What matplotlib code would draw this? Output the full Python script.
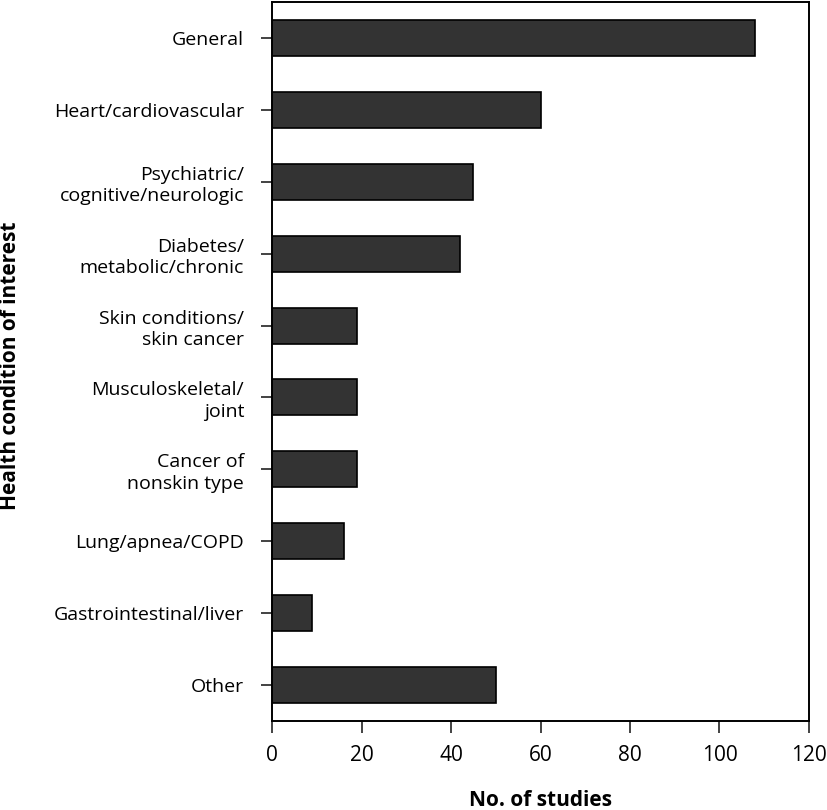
import matplotlib
matplotlib.use('Agg')
import matplotlib.pyplot as plt

conditions = ['General', 'Heart/cardiovascular', 'Psychiatric/\ncognitive/neurologic',
              'Diabetes/\nmetabolic/chronic', 'Skin conditions/\nskin cancer',
              'Musculoskeletal/\njoint', 'Cancer of\nnonskin type', 'Lung/apnea/COPD',
              'Gastrointestinal/liver', 'Other']
n_studies = [108, 60, 45, 42, 19, 19, 19, 16, 9, 50]
x_ticks = [0, 20, 40, 60, 80, 100, 120]

plt.rcParams['font.family'] = ['Open Sans', 'DejaVu Sans']

fig = plt.figure(figsize=(8.28, 8.10), dpi=100)
ax = fig.add_axes([272 / 828, 1 - 721 / 810, (809 - 272) / 828, (721 - 2) / 810])

pos = list(range(len(conditions)))
ax.barh(pos, n_studies, height=0.5, color='#333333', edgecolor='black', linewidth=1.2)

ax.set_ylim(len(conditions) - 0.5, -0.5)
ax.set_xlim(0, 120)
ax.set_xticks(x_ticks)
ax.set_xticklabels([str(t) for t in x_ticks], fontsize=15)
ax.set_yticks(pos)
ax.set_yticklabels(conditions, fontsize=14, multialignment='right', linespacing=1.25)

ax.tick_params(axis='x', direction='out', length=8.5, width=1.2, pad=9, color='#222222')
ax.tick_params(axis='y', direction='out', length=8, width=1.2, pad=12, color='#222222')
for s in ax.spines.values():
    s.set_linewidth(1.4)
    s.set_color('black')

ax.set_xlabel('No. of studies', fontsize=15, fontweight='bold', labelpad=17)
fig.text(11 / 828, 1 - 366 / 810, 'Health condition of interest', rotation=90,
         fontsize=15, fontweight='bold', ha='center', va='center')

fig.savefig('out.png', dpi=100)
